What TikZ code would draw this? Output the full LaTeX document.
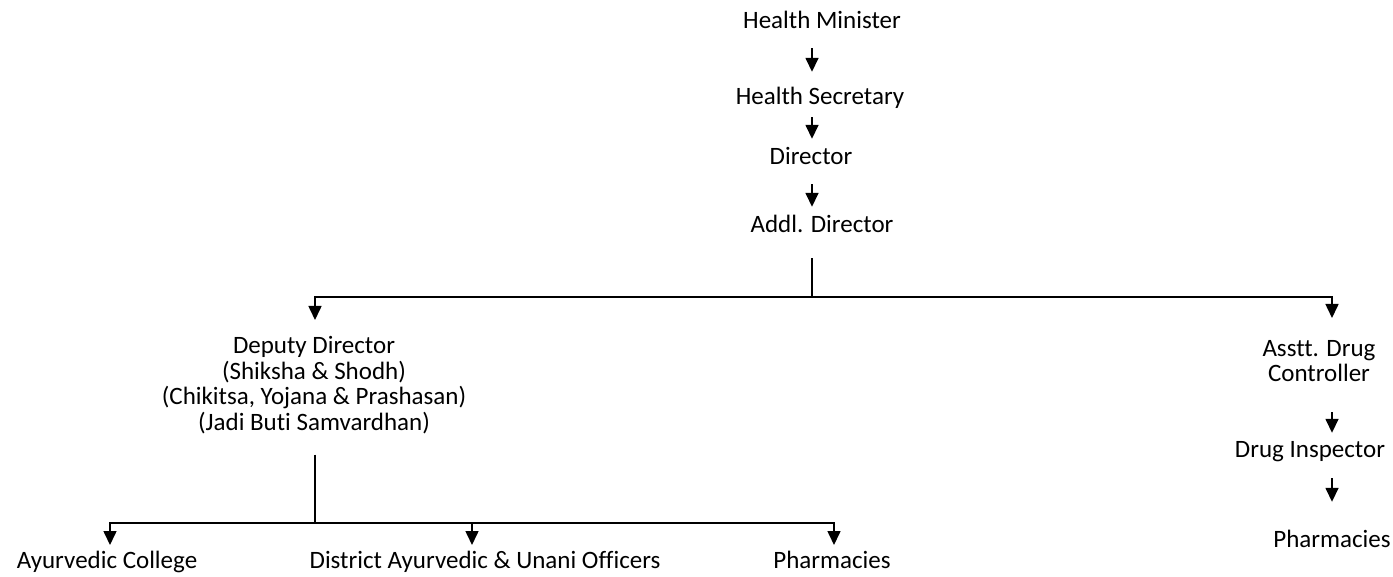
\documentclass[tikz,border=0pt]{standalone}
\usepackage{fontspec}
\setmainfont[Ligatures=NoCommon]{Carlito}
\usetikzlibrary{arrows.meta,calc}
\begin{document}
\begin{tikzpicture}[x=1pt,y=-1pt,
  lbl/.style={anchor=base,inner sep=0pt,text height=15pt,text depth=5pt,font=\fontsize{25}{25.5}\selectfont},
  mlbl/.style={anchor=base,inner sep=0pt,align=center,font=\fontsize{25}{25.5}\selectfont},
  arr/.style={line width=1.6pt,-{Triangle[width=13pt,length=14pt]}},
  ln/.style={line width=1.6pt}]
\useasboundingbox (0,0) rectangle (1393,577);
\coordinate (colA) at (812,0);
\coordinate (colB) at (1332,0);
\coordinate (colD) at (315,0);
% top chain
\node[lbl] (hm) at (822,29) {Health Minister};
\node[lbl] (hs) at (820,105) {Health Secretary};
\node[lbl] (dir) at (811,165) {Director};
\node[lbl] (ad) at (822,233) {Addl. Director};
% second level (base anchor = baseline of last line)
\node[mlbl] (dd) at (314,430) {Deputy Director\\(Shiksha \& Shodh)\\(Chikitsa, Yojana \& Prashasan)\\(Jadi Buti Samvardhan)};
\node[mlbl] (adc) at (1319,382) {Asstt. Drug\\Controller};
\node[lbl] (di) at (1310,457) {Drug Inspector};
\node[lbl] (phr) at (1332,547) {Pharmacies};
% bottom
\node[lbl] (ac) at (107,568) {Ayurvedic College};
\node[lbl] (dau) at (485,568) {District Ayurvedic \& Unani Officers};
\node[lbl] (phb) at (832,568) {Pharmacies};
% junctions and tips
\coordinate (j1) at (812,297);
\coordinate (j2) at (315,523);
\coordinate (tDD) at (315,320);
\coordinate (tADC) at (1332,318);
\coordinate (tAC) at (110,545);
\coordinate (tDAU) at (472,545);
\coordinate (tPHB) at (834,545);
% connectors
\draw[arr] ($(hm.south -| colA)+(0,14)$) -- ($(hs.north -| colA)+(0,-18)$);
\draw[arr] ($(hs.south -| colA)+(0,7)$) -- ($(dir.north -| colA)+(0,-11)$);
\draw[arr] ($(dir.south -| colA)+(0,14)$) -- ($(ad.north -| colA)+(0,-11)$);
\draw[ln] ($(ad.south -| colA)+(0,20)$) -- (j1);
\draw[arr] (j1) -| (tDD);
\draw[arr] (j1) -| (tADC);
\draw[arr] ($(adc.south -| colB)+(0,30)$) -- ($(di.north -| colB)+(0,-9)$);
\draw[arr] ($(di.south -| colB)+(0,16)$) -- ($(phr.north -| colB)+(0,-30)$);
\draw[ln] ($(dd.south -| colD)+(0,21)$) -- (j2);
\draw[arr] (j2) -| (tAC);
\draw[arr] (j2) -| (tDAU);
\draw[arr] (j2) -| (tPHB);
\end{tikzpicture}
\end{document}
